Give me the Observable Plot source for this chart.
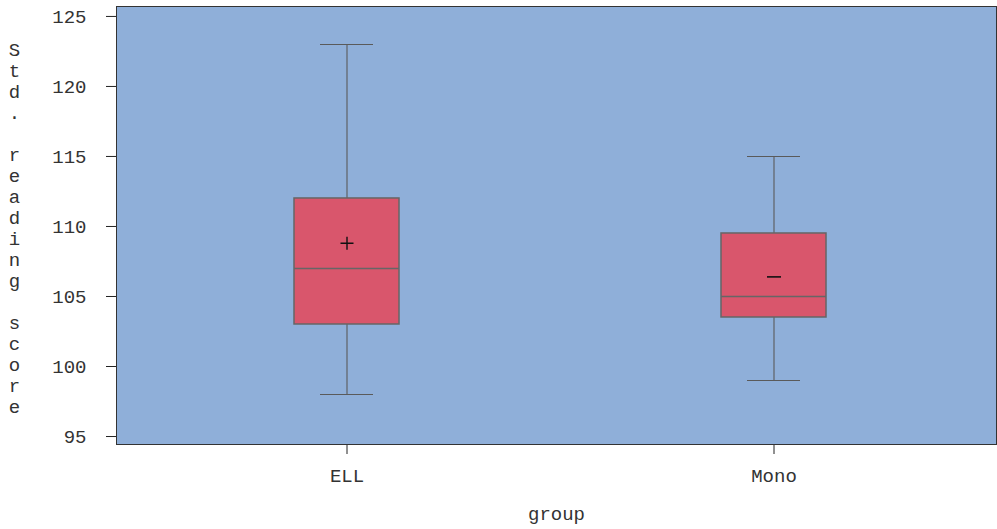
<!DOCTYPE html>
<html>
<head>
<meta charset="utf-8">
<script src="https://cdn.jsdelivr.net/npm/d3@7"></script>
<script src="https://cdn.jsdelivr.net/npm/@observablehq/plot@0.6"></script>
<style>
  html, body { margin: 0; padding: 0; background: #ffffff; }
  #chart { width: 997px; height: 529px; }
</style>
</head>
<body>
<div id="chart"></div>
<script>
// Box-plot summaries of standardized reading score by group
const groups = ["ELL", "Mono"];
const whiskerLow = [98, 99];
const q1 = [103, 103.5];
const medians = [107, 105];
const q3 = [112, 109.5];
const whiskerHigh = [123, 115];
const means = [108.8, 106.4];
const meanMarkers = ["+", "−"];
const yTicks = [95, 100, 105, 110, 115, 120, 125];
const yTitle = "Std. reading score";
const xTitle = "group";

const rows = groups.map((g, i) => ({
  group: g,
  low: whiskerLow[i],
  q1: q1[i],
  median: medians[i],
  q3: q3[i],
  high: whiskerHigh[i],
  mean: means[i],
  marker: meanMarkers[i]
}));

// line-drawn mean markers
const plusSymbol = {
  draw(ctx, size) {
    const r = Math.sqrt(size / Math.PI);
    ctx.moveTo(-r, 0); ctx.lineTo(r, 0);
    ctx.moveTo(0, -r); ctx.lineTo(0, r);
  }
};
const minusSymbol = {
  draw(ctx, size) {
    const r = Math.sqrt(size / Math.PI);
    ctx.moveTo(-r, 0); ctx.lineTo(r, 0);
  }
};

const bg = "#8FAFD9";
const boxFill = "#D9566C";
const gray = "#666666";
const ink = "#333333";

const chart = Plot.plot({
  width: 997,
  height: 529,
  marginLeft: 116,
  marginRight: 1,
  marginTop: 6,
  marginBottom: 85,
  style: {
    fontFamily: "'Liberation Mono', 'DejaVu Sans Mono', monospace",
    fontSize: "19px",
    color: ink,
    background: "#ffffff"
  },
  x: {
    type: "band",
    domain: groups,
    paddingInner: 0.7547,
    paddingOuter: 0.4066,
    align: 0.5115
  },
  y: {
    domain: [94.43, 125.71]
  },
  marks: [
    Plot.frame({fill: bg}),
    // whiskers and caps
    Plot.ruleX(rows, {x: "group", y1: "low", y2: "high", stroke: "#5a5a5a", strokeWidth: 1.1}),
    Plot.tickY(rows, {x: "group", y: "low", stroke: "#5a5a5a", strokeWidth: 1.1, insetLeft: 26, insetRight: 26}),
    Plot.tickY(rows, {x: "group", y: "high", stroke: "#5a5a5a", strokeWidth: 1.1, insetLeft: 26, insetRight: 26}),
    // interquartile boxes
    Plot.barY(rows, {x: "group", y1: "q1", y2: "q3", fill: boxFill, stroke: gray, strokeWidth: 1.5}),
    // medians
    Plot.tickY(rows, {x: "group", y: "median", stroke: gray, strokeWidth: 1.5}),
    // means
    Plot.dot(rows.filter(d => d.marker === "+"), {x: "group", y: "mean", symbol: plusSymbol, r: 6.5, fill: "none", stroke: "#111", strokeWidth: 1.4}),
    Plot.dot(rows.filter(d => d.marker === "−"), {x: "group", y: "mean", symbol: minusSymbol, r: 7, fill: "none", stroke: "#111", strokeWidth: 1.6}),
    // axes
    Plot.axisY({ticks: yTicks, tickSize: 10, tickPadding: 20, label: null, stroke: "#222"}),
    Plot.axisX({tickSize: 10, tickPadding: 14, label: null, stroke: "#222"}),
    Plot.frame({stroke: "#333", strokeWidth: 1}),
    // axis titles
    Plot.text([yTitle], {
      text: d => d.split("").join("\n"),
      frameAnchor: "left",
      dx: -102,
      dy: 2,
      textAnchor: "middle",
      lineAnchor: "middle",
      lineHeight: 21 / 19,
      fill: ink
    }),
    Plot.text([xTitle], {
      frameAnchor: "bottom",
      dy: 69,
      lineAnchor: "middle",
      fill: ink
    })
  ]
});

document.getElementById("chart").appendChild(chart);
</script>
</body>
</html>
